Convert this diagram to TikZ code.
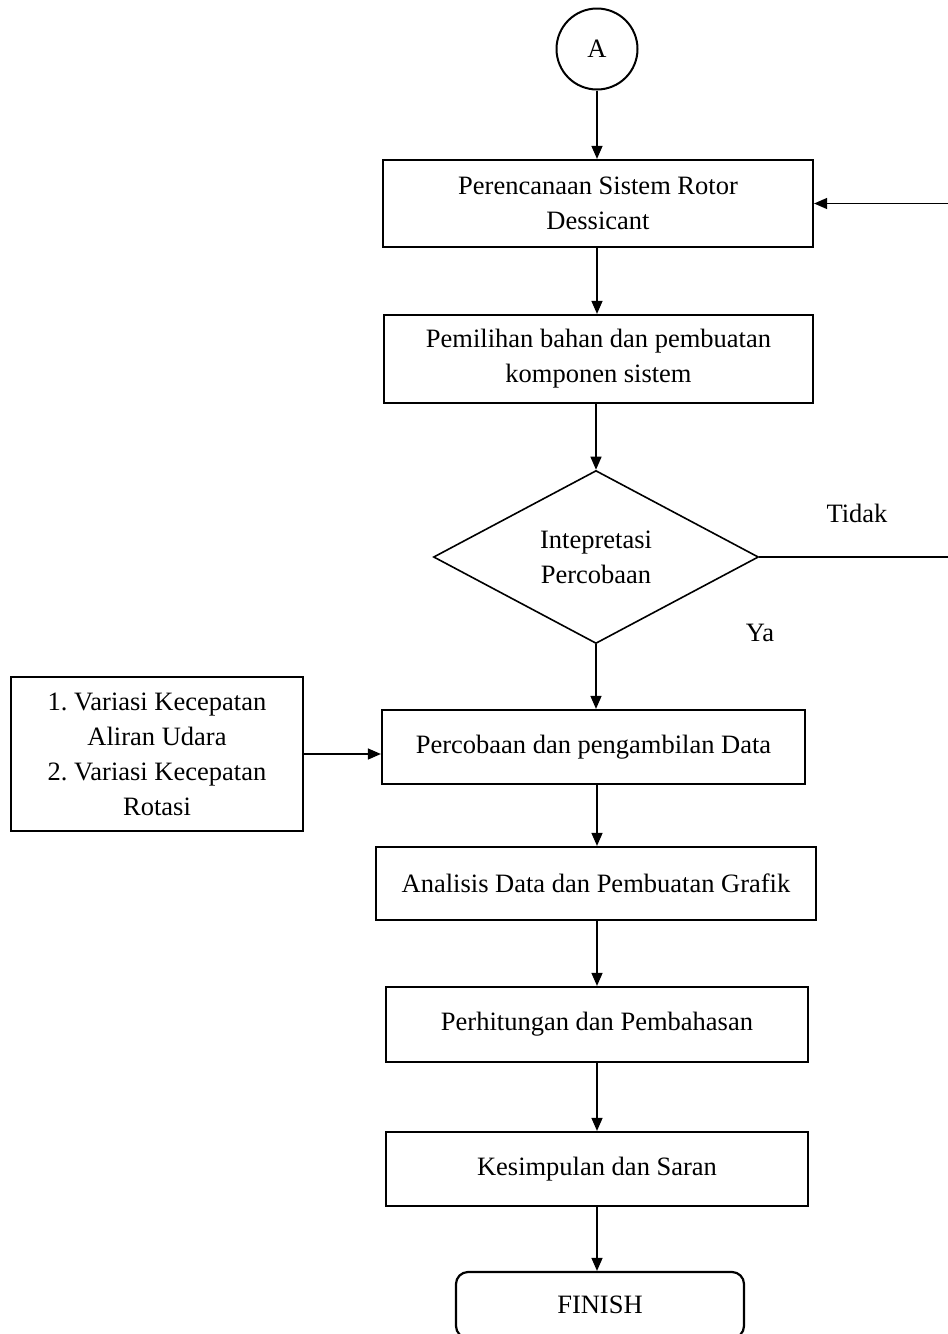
\documentclass[tikz,border=0pt]{standalone}
\usepackage{fontspec}
\setmainfont{Liberation Serif}
\frenchspacing
\usetikzlibrary{shapes.geometric,arrows.meta}
\tikzset{
  txt/.style={font=\fontsize{26.5}{35}\selectfont, align=center},
  procbox/.style={txt, draw, line width=2.2pt, inner sep=0pt, rectangle},
  conn/.style={line width=1.3pt, -{Triangle[length=13pt,width=11pt]}},
  plainline/.style={line width=1.3pt},
}
\begin{document}
\begin{tikzpicture}[x=1pt,y=-1pt]
\useasboundingbox (0,0) rectangle (948,1334);
\node[txt, draw, circle, line width=2pt, minimum size=81pt, inner sep=0pt] (A) at (597,49) {A};
\node[procbox, minimum width=430pt, minimum height=87pt] (b1) at (598,203.5) {Perencanaan Sistem Rotor\\Dessicant};
\node[procbox, minimum width=429pt, minimum height=88pt] (b2) at (598.5,359) {Pemilihan bahan dan pembuatan\\komponen sistem};
\node[txt, draw, diamond, line width=1.6pt, inner sep=0pt, aspect=1.88, minimum width=325pt, minimum height=173pt] (d) at (596,557) {Intepretasi\\Percobaan};
\node[procbox, minimum width=423pt, minimum height=74pt] (b3) at (593.5,747) {Percobaan dan pengambilan Data};
\node[procbox, minimum width=292pt, minimum height=154pt] (v) at (157,754) {1. Variasi Kecepatan\\Aliran Udara\\2. Variasi Kecepatan\\Rotasi};
\node[procbox, minimum width=440pt, minimum height=73pt] (b4) at (596,883.5) {Analisis Data dan Pembuatan Grafik};
\node[procbox, minimum width=422pt, minimum height=75pt] (b5) at (597,1024.5) {Perhitungan dan Pembahasan};
\node[procbox, minimum width=422pt, minimum height=74pt] (b6) at (597,1169) {Kesimpulan dan Saran};
\node[procbox, rounded corners=12pt, minimum width=288pt, minimum height=66pt] (fin) at (600,1305) {FINISH};
\node[txt] (tidak) at (857,513) {Tidak};
\node[txt] (ya) at (760,633) {Ya};
\coordinate (r1) at (949,557);
\coordinate (r2) at (949,203.5);

\draw[conn] (A.south) -- (A.south |- b1.north);
\draw[conn] (A.south |- b1.south) -- (A.south |- b2.north);
\draw[conn] (d.north |- b2.south) -- (d.north);
\draw[conn] (d.south) -- (d.south |- b3.north);
\draw[conn] (A.south |- b3.south) -- (A.south |- b4.north);
\draw[conn] (A.south |- b4.south) -- (A.south |- b5.north);
\draw[conn] (A.south |- b5.south) -- (A.south |- b6.north);
\draw[conn] (A.south |- b6.south) -- (A.south |- fin.north);
\draw[conn] (v.east) -- (v.east -| b3.west);
\draw[plainline] (d.east) -- (r1) -- (r2);
\draw[conn] (r2) -- (b1.east);
\end{tikzpicture}
\end{document}
